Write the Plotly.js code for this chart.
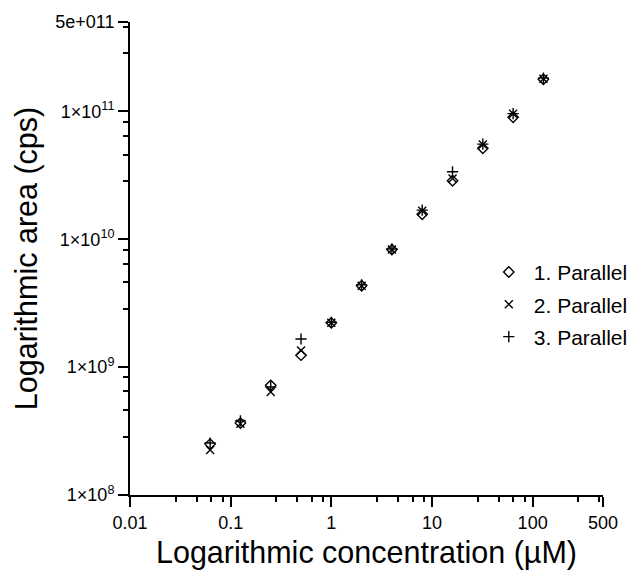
<!DOCTYPE html>
<html>
<head>
<meta charset="utf-8">
<script src="https://cdn.plot.ly/plotly-3.0.1.min.js"></script>
<style>html,body{margin:0;padding:0;background:#fff;}#chart{width:636px;height:570px;}</style>
</head>
<body>
<div id="chart"></div>
<script>
// Concentrations (µM)
const concentration = [0.0625, 0.125, 0.25, 0.5, 1, 2, 4, 8, 16, 32, 64, 128];
// Areas (cps) for each parallel
const parallel1 = [2.5e8, 3.65e8, 7.2e8, 1.24e9, 2.22e9, 4.33e9, 8.3e9, 1.57e10, 2.87e10, 5.14e10, 9.0e10, 1.78e11];
const parallel2 = [2.25e8, 3.6e8, 6.4e8, 1.35e9, 2.22e9, 4.33e9, 8.3e9, 1.67e10, 2.99e10, 5.5e10, 9.6e10, 1.8e11];
const parallel3 = [2.55e8, 3.8e8, 7.0e8, 1.66e9, 2.24e9, 4.4e9, 8.4e9, 1.69e10, 3.37e10, 5.55e10, 9.6e10, 1.82e11];
const seriesNames = ["1. Parallel", "2. Parallel", "3. Parallel"];

const xTickVals = [0.01, 0.1, 1, 10, 100, 500];
const xTickText = ["0.01", "0.1", "1", "10", "100", "500"];
const yTickVals = [1e8, 1e9, 1e10, 1e11, 5e11];
const yTickText = ["1×10<sup>8</sup>", "1×10<sup>9</sup>", "1×10<sup>10</sup>", "1×10<sup>11</sup>", "5e+011"];

const minorMult = [2.85, 4.6, 6.45, 8.3];
function minors(lo, hi) {
  const out = [];
  for (let d = lo; d < hi; d *= 10) {
    minorMult.forEach(m => { const v = d * m; if (v < hi * 0.93) out.push(v); });
  }
  return out;
}
const xMinor = minors(0.01, 500);
const yMinor = minors(1e8, 5e11);

const font = "Liberation Sans, Arial, sans-serif";
const symbols = ["diamond-open", "x-thin-open", "cross-thin-open"];
const data = [parallel1, parallel2, parallel3].map((ys, i) => ({
  x: concentration, y: ys, type: "scatter", mode: "markers", name: seriesNames[i],
  legendgroup: "g" + i,
  marker: { symbol: symbols[i], size: 8, color: "#000", line: { color: "#000", width: 1.4 } }
}));

const axisCommon = {
  type: "log", showgrid: false, zeroline: false, showline: true, linecolor: "#000", linewidth: 2,
  ticks: "outside", ticklen: 10, tickwidth: 2, tickcolor: "#000",
  tickfont: { family: font, size: 18, color: "#000" }, tickmode: "array",
  minor: { ticks: "outside", ticklen: 5, tickwidth: 2, tickcolor: "#000", showgrid: false }
};

const layout = {
  width: 636, height: 570,
  margin: { l: 130, r: 33, t: 22, b: 75, autoexpand: false },
  paper_bgcolor: "#fff", plot_bgcolor: "#fff",
  font: { family: font, color: "#000" },
  showlegend: true,
  legend: { x: 0.748, y: 0.514, xanchor: "left", yanchor: "top", traceorder: "grouped", tracegroupgap: 2,
    itemwidth: 40, font: { family: font, size: 21, color: "#000" }, bgcolor: "rgba(0,0,0,0)", itemsizing: "trace" },
  xaxis: Object.assign({}, axisCommon, {
    range: [-2, Math.log10(500)], tickvals: xTickVals, ticktext: xTickText,
    minor: Object.assign({}, axisCommon.minor, { tickvals: xMinor }),
    title: { text: "Logarithmic concentration (µM)", font: { family: font, size: 30.5, color: "#000" }, standoff: 12 }
  }),
  yaxis: Object.assign({}, axisCommon, {
    range: [8, Math.log10(5e11)], tickvals: yTickVals, ticktext: yTickText,
    minor: Object.assign({}, axisCommon.minor, { tickvals: yMinor }),
    title: { text: "Logarithmic area (cps)", font: { family: font, size: 30.5, color: "#000" }, standoff: 8 }
  })
};

Plotly.newPlot("chart", data, layout, { displayModeBar: false, staticPlot: true });
</script>
</body>
</html>
